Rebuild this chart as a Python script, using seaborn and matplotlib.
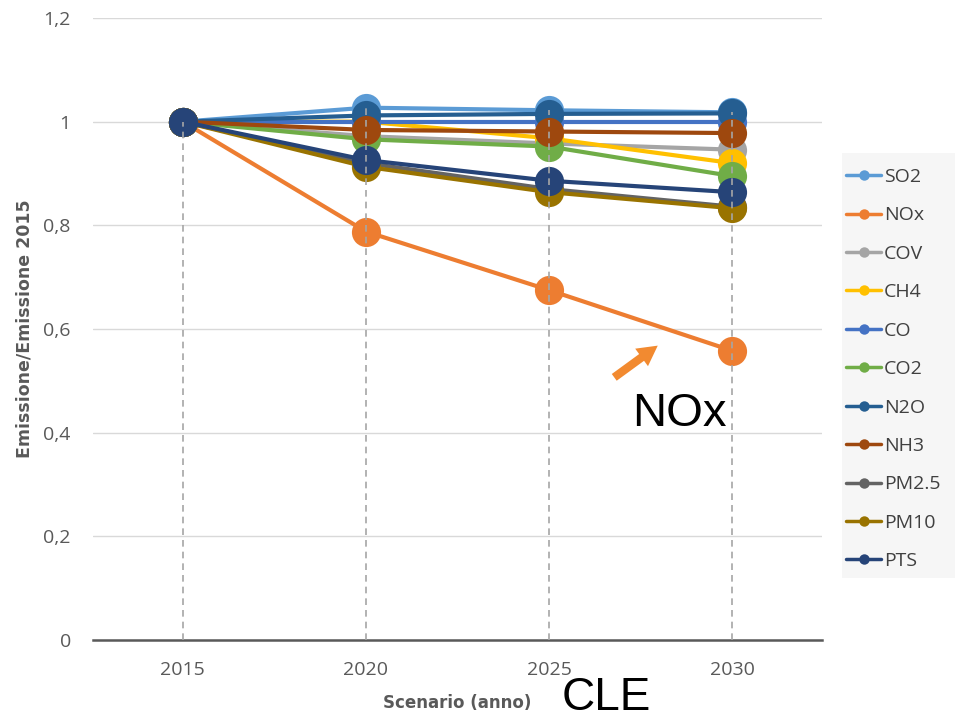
import numpy as np
import pandas as pd
import matplotlib
matplotlib.use("Agg")
import matplotlib.pyplot as plt
import seaborn as sns
from matplotlib.ticker import FuncFormatter

years = [2015, 2020, 2025, 2030]
series_names = ["SO2", "NOx", "COV", "CH4", "CO", "CO2", "N2O", "NH3", "PM2.5", "PM10", "PTS"]
so2 = [1.0, 1.027, 1.022, 1.018]
nox = [1.0, 0.788, 0.675, 0.558]
cov = [1.0, 0.972, 0.958, 0.946]
ch4 = [1.0, 1.0, 0.968, 0.920]
co = [1.0, 1.0, 1.0, 1.0]
co2 = [1.0, 0.966, 0.952, 0.895]
n2o = [1.0, 1.012, 1.015, 1.016]
nh3 = [1.0, 0.984, 0.981, 0.978]
pm25 = [1.0, 0.920, 0.870, 0.836]
pm10 = [1.0, 0.913, 0.864, 0.833]
pts = [1.0, 0.926, 0.886, 0.864]
values = [so2, nox, cov, ch4, co, co2, n2o, nh3, pm25, pm10, pts]
colors = ["#5B9BD5", "#ED7D31", "#A5A5A5", "#FFC000", "#4472C4", "#70AD47",
          "#255E91", "#9E480E", "#636363", "#997300", "#264478"]
yticks = [0, 0.2, 0.4, 0.6, 0.8, 1.0, 1.2]

rows = []
for name, vals in zip(series_names, values):
    for y, v in zip(years, vals):
        rows.append({"Anno": y, "Valore": v, "Serie": name})
df = pd.DataFrame(rows)

sns.set_theme(style="white")
plt.rcParams["font.family"] = ["Open Sans", "DejaVu Sans"]

fig = plt.figure(figsize=(9.55, 7.21), dpi=100)
ax = fig.add_axes([93/955, 1-640/721, (822-93)/955, (640-18)/721])

sns.lineplot(data=df, x="Anno", y="Valore", hue="Serie", hue_order=series_names,
             palette=colors, marker="o", markersize=21, markeredgewidth=0,
             linewidth=3, ax=ax, legend=True, zorder=3)

# drop lines
maxv = np.max(np.array(values), axis=0)
ax.vlines(years, 0, maxv, colors="#a6a6a6", linestyles=(0, (4, 3)), lw=1.2, zorder=10)

ax.set_xlim(2012.55, 2032.45)
ax.set_ylim(0, 1.2)
ax.set_xticks(years)
ax.set_xticklabels([str(y) for y in years])
ax.set_yticks(yticks)
ax.yaxis.set_major_formatter(FuncFormatter(lambda v, p: ("%g" % round(v, 1)).replace(".", ",")))
ax.grid(axis="y", color="#d9d9d9", lw=1)
ax.grid(axis="x", visible=False)
for s in ["top", "right", "left"]:
    ax.spines[s].set_visible(False)
ax.spines["bottom"].set_color("#595959")
ax.spines["bottom"].set_linewidth(1.8)
ax.tick_params(axis="both", length=0, labelsize=14, labelcolor="#595959")
ax.tick_params(axis="y", pad=16)
ax.tick_params(axis="x", pad=15)

ax.set_xlabel("Scenario (anno)", fontsize=12, fontweight="bold", color="#595959",
              family=["Liberation Sans Narrow", "DejaVu Sans"])
ax.xaxis.set_label_coords(0.5, -(703-640)/622)
ax.xaxis.label.set(va="center", ha="center")
ax.set_ylabel("Emissione/Emissione 2015", fontsize=12.5, fontweight="bold", color="#595959",
              family=["Liberation Sans Narrow", "DejaVu Sans"])
ax.yaxis.set_label_coords((24-93)/729, 0.5)
ax.yaxis.label.set(va="center", ha="center")

# legend background
fig.add_artist(matplotlib.patches.Rectangle((842/955, 1-578/721), (955-842)/955, (578-153)/721,
                                            transform=fig.transFigure, facecolor="#f6f6f6",
                                            edgecolor="none", zorder=0))
handles, labels = ax.get_legend_handles_labels()
for h in handles:
    h.set_markersize(7.5)
    h.set_linewidth(2.5)
leg = ax.legend(handles, labels, loc="upper left", bbox_to_anchor=(846/955, 1-168/721),
                bbox_transform=fig.transFigure, frameon=False, fontsize=14,
                labelspacing=1.05, handlelength=1.8, handletextpad=0.15,
                borderaxespad=0, borderpad=0)
for t in leg.get_texts():
    t.set_color("#404040")

# annotations
fig.text(632/955, 1-426/721, "NOx", fontsize=34, color="black",
         family=["Liberation Sans", "DejaVu Sans"], ha="left", va="baseline")
fig.text(562/955, 1-710/721, "CLE", fontsize=33, color="black",
         family=["Liberation Sans", "DejaVu Sans"], ha="left", va="baseline")
fig.add_artist(matplotlib.patches.FancyArrowPatch(
    (612/955, 1-379/721), (660/955, 1-344/721), transform=fig.transFigure,
    arrowstyle="simple,head_width=1.3,head_length=1.2,tail_width=0.5",
    mutation_scale=12, color="#F28A30", lw=0))

fig.savefig("out.png", dpi=100)
